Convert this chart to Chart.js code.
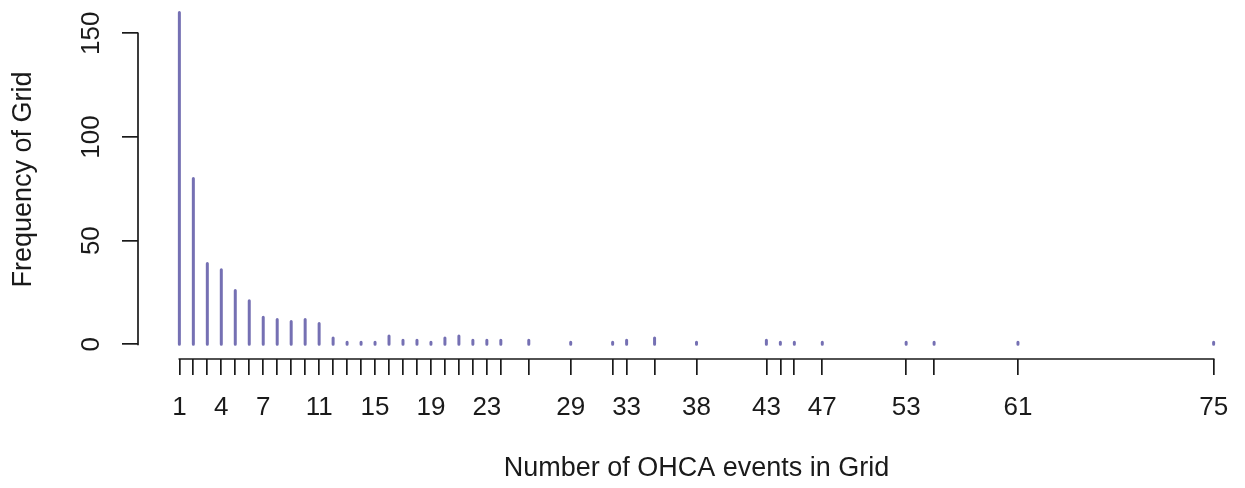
<!DOCTYPE html>
<html>
<head>
<meta charset="utf-8">
<script src="https://cdn.jsdelivr.net/npm/chart.js@4.4.1/dist/chart.umd.min.js"></script>
<style>
html,body{margin:0;padding:0;overflow:hidden;background:#fff;}
canvas{display:block;}
</style>
</head>
<body>
<canvas id="c" width="1255" height="488"></canvas>
<script>
// Number of OHCA events in a grid cell (categories present in the data)
const events = [1,2,3,4,5,6,7,8,9,10,11,12,13,14,15,16,17,18,19,20,21,22,23,24,26,29,32,33,35,38,43,44,45,47,53,55,61,75];
// Frequency of grid cells with that number of events
const freq   = [160,80,39,36,26,21,13,12,11,12,10,3,1,1,1,4,2,2,1,3,4,2,2,2,2,1,1,2,3,1,2,1,1,1,1,1,1,1];
// Tick labels that are printed on the x axis (others are tick marks only)
const xLabels = [1,4,7,11,15,19,23,29,33,38,43,47,53,61,75];
const yTicks = [0,50,100,150];

const FONT = "'Liberation Sans', Arial, Helvetica, sans-serif";
const INK = '#1a1a1a';
const BAR = '#7570B3';

// R "type = h" style: a vertical segment from 0 to the frequency for every category
const segs = [];
events.forEach((e, i) => {
  segs.push({x: e, y: 0});
  segs.push({x: e, y: freq[i]});
  segs.push({x: e, y: null});
});

const rAxes = {
  id: 'rAxes',
  afterDraw(chart) {
    const {ctx, chartArea, scales: {x, y}} = chart;
    ctx.save();
    ctx.strokeStyle = INK;
    ctx.lineWidth = 1.7;
    ctx.beginPath();
    const xb = chartArea.bottom;
    ctx.moveTo(x.getPixelForValue(events[0]) - 0.85, xb);
    ctx.lineTo(x.getPixelForValue(events[events.length - 1]) + 0.85, xb);
    const yl = chartArea.left;
    ctx.moveTo(yl, y.getPixelForValue(yTicks[0]) + 0.85);
    ctx.lineTo(yl, y.getPixelForValue(yTicks[yTicks.length - 1]) - 0.85);
    ctx.stroke();
    ctx.fillStyle = INK;
    ctx.font = '26px ' + FONT;
    ctx.textAlign = 'center';
    ctx.textBaseline = 'alphabetic';
    yTicks.forEach(v => {
      ctx.save();
      ctx.translate(chartArea.left - 38.7, y.getPixelForValue(v));
      ctx.rotate(-Math.PI / 2);
      ctx.fillText(String(v), 0, 0);
      ctx.restore();
    });
    ctx.restore();
  }
};

new Chart(document.getElementById('c'), {
  type: 'line',
  data: {
    datasets: [{
      data: segs,
      borderColor: BAR,
      borderWidth: 3,
      borderCapStyle: 'round',
      pointRadius: 0,
      spanGaps: false,
      tension: 0,
      fill: false,
      clip: false
    }]
  },
  options: {
    responsive: false,
    animation: false,
    devicePixelRatio: 1,
    layout: {padding: 0},
    plugins: {legend: {display: false}, tooltip: {enabled: false}},
    scales: {
      x: {
        type: 'linear',
        min: -1.96,
        max: 77.96,
        offset: false,
        afterBuildTicks: s => { s.ticks = events.map(v => ({value: v})); },
        afterFit: s => { s.height = 129; },
        border: {display: false},
        grid: {display: true, offset: false, drawOnChartArea: false, drawTicks: true, tickLength: 16,
               color: INK, tickColor: INK, lineWidth: 1.7},
        ticks: {
          autoSkip: false, maxRotation: 0, minRotation: 0, padding: 17,
          color: INK, font: {family: FONT, size: 26},
          callback: v => xLabels.includes(v) ? String(v) : ''
        },
        title: {display: true, text: 'Number of OHCA events in Grid', color: INK,
                font: {family: FONT, size: 27}, padding: {top: 0, bottom: 3}}
      },
      y: {
        type: 'linear',
        min: -7.09,
        max: 166.06,
        offset: false,
        afterBuildTicks: s => { s.ticks = yTicks.map(v => ({value: v})); },
        afterFit: s => { s.width = 138; },
        border: {display: false},
        grid: {display: true, offset: false, drawOnChartArea: false, drawTicks: true, tickLength: 16,
               color: INK, tickColor: INK, lineWidth: 1.7},
        ticks: {display: false},
        title: {display: true, text: 'Frequency of Grid', color: INK,
                font: {family: FONT, size: 27}, padding: {top: 7.6, bottom: 0}}
      }
    }
  },
  plugins: [rAxes]
});
</script>
</body>
</html>
